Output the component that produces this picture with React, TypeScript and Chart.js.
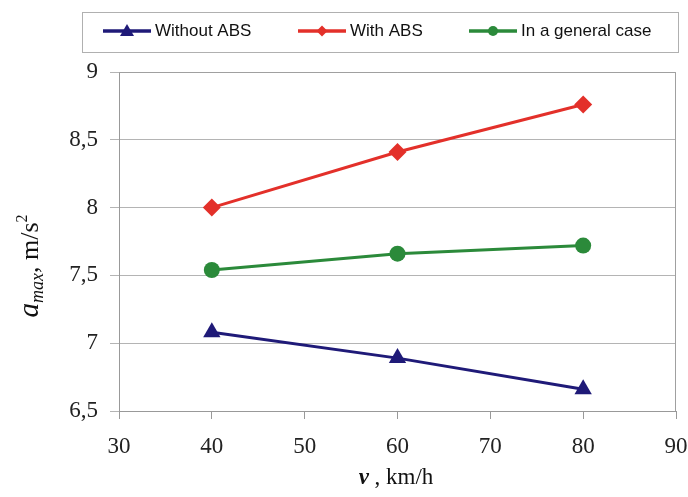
import React, { useEffect, useRef } from "react";
import { Chart, registerables } from "chart.js";

Chart.register(...registerables);

const speeds = [40, 60, 80];
const withoutABS = [7.08, 6.89, 6.66];
const withABS = [8.0, 8.41, 8.76];
const generalCase = [7.54, 7.66, 7.72];
const seriesLabels = ["Without ABS", "With ABS", "In a general case"];
const seriesColors = ["#1f1a78", "#e3302a", "#2b8a3a"];
const seriesMarkers = ["triangle", "rectRot", "circle"];
const markerRadius = [10, 9, 8];

const SERIF = "'Liberation Serif', 'Times New Roman', serif";
const SANS = "'Liberation Sans', Arial, sans-serif";

const decoPlugin = {
  id: "deco",
  afterDraw(chart: any) {
    const ctx = chart.ctx as CanvasRenderingContext2D;
    const a = chart.chartArea;
    ctx.save();
    // plot border (top & right)
    ctx.strokeStyle = "#a0a0a0";
    ctx.lineWidth = 1;
    ctx.beginPath();
    ctx.moveTo(a.left, a.top + 0.5);
    ctx.lineTo(a.right - 0.5, a.top + 0.5);
    ctx.lineTo(a.right - 0.5, a.bottom);
    ctx.stroke();

    // legend box
    const lx = 82, ly = 12, lw = 596, lh = 40;
    ctx.strokeStyle = "#b0b0b0";
    ctx.strokeRect(lx + 0.5, ly + 0.5, lw, lh);
    const itemX = [103, 298, 469];
    const cy = 31;
    chart.data.datasets.forEach((ds: any, i: number) => {
      const x0 = itemX[i];
      ctx.strokeStyle = ds.borderColor;
      ctx.lineWidth = 3.5;
      ctx.beginPath();
      ctx.moveTo(x0, cy);
      ctx.lineTo(x0 + 48, cy);
      ctx.stroke();
      ctx.fillStyle = ds.borderColor;
      const mx = x0 + 24;
      ctx.beginPath();
      if (ds.pointStyle === "triangle") {
        ctx.moveTo(mx, cy - 7);
        ctx.lineTo(mx + 7, cy + 5);
        ctx.lineTo(mx - 7, cy + 5);
      } else if (ds.pointStyle === "rectRot") {
        ctx.moveTo(mx, cy - 5.5);
        ctx.lineTo(mx + 5.5, cy);
        ctx.lineTo(mx, cy + 5.5);
        ctx.lineTo(mx - 5.5, cy);
      } else {
        ctx.arc(mx, cy, 5, 0, Math.PI * 2);
      }
      ctx.closePath();
      ctx.fill();
      ctx.fillStyle = "#111";
      ctx.font = `17px ${SANS}`;
      ctx.textBaseline = "middle";
      ctx.textAlign = "left";
      ctx.fillText(ds.label, x0 + 52, cy);
    });

    const drawParts = (parts: any[], cx: number, cyy: number) => {
      let total = 0;
      parts.forEach((p) => {
        ctx.font = p.font;
        p.w = ctx.measureText(p.t).width;
        total += p.w;
      });
      let x = cx - total / 2;
      ctx.textAlign = "left";
      ctx.textBaseline = "alphabetic";
      parts.forEach((p) => {
        ctx.font = p.font;
        ctx.fillText(p.t, x, cyy + (p.dy || 0));
        x += p.w;
      });
    };
    ctx.fillStyle = "#111";
    // x title
    drawParts(
      [
        { t: "v", font: `italic bold 23px ${SERIF}` },
        { t: " , km/h", font: `23px ${SERIF}` },
      ],
      396,
      484
    );

    // y title
    ctx.save();
    ctx.translate(38, 266);
    ctx.rotate(-Math.PI / 2);
    drawParts(
      [
        { t: "a", font: `italic 29px ${SERIF}` },
        { t: "max", font: `italic 18px ${SERIF}`, dy: 5 },
        { t: ", m/s", font: `26px ${SERIF}` },
        { t: "2", font: `16px ${SERIF}`, dy: -11 },
      ],
      0,
      0
    );
    ctx.restore();
    ctx.restore();
  },
};

export default function App() {
  const ref = useRef<HTMLCanvasElement>(null);
  useEffect(() => {
    const mk = (vals: number[]) => speeds.map((x, i) => ({ x, y: vals[i] }));
    const all = [withoutABS, withABS, generalCase];
    const chart = new Chart(ref.current!, {
      type: "line",
      data: {
        datasets: all.map((vals, i) => ({
          label: seriesLabels[i],
          data: mk(vals),
          borderColor: seriesColors[i],
          backgroundColor: seriesColors[i],
          borderWidth: 3,
          pointStyle: seriesMarkers[i] as any,
          pointRadius: markerRadius[i],
          pointBorderWidth: 0,
          tension: 0,
        })),
      },
      options: {
        animation: false,
        responsive: false,
        maintainAspectRatio: false,
        layout: { padding: { left: 0, top: 72, right: 12, bottom: 0 } },
        plugins: { legend: { display: false }, tooltip: { enabled: false } },
        scales: {
          x: {
            type: "linear",
            min: 30,
            max: 90,
            ticks: {
              stepSize: 10,
              color: "#222",
              font: { family: SERIF, size: 23 },
              padding: 14,
              maxRotation: 0,
            },
            grid: {
              drawOnChartArea: false,
              drawTicks: true,
              tickLength: 8,
              color: "#999",
            },
            border: { color: "#999" },
            afterFit(s: any) {
              s.height = 86;
              s.paddingLeft = 0;
              s.paddingRight = 0;
            },
          },
          y: {
            min: 6.5,
            max: 9,
            ticks: {
              stepSize: 0.5,
              color: "#222",
              font: { family: SERIF, size: 23 },
              padding: 12,
              callback: (v: any) => String(v).replace(".", ","),
            },
            grid: { color: "#b4b4b4", tickLength: 9, lineWidth: 1 },
            border: { color: "#999" },
            afterFit(s: any) {
              s.width = 119;
              s.paddingTop = 0;
              s.paddingBottom = 0;
            },
          },
        },
      },
      plugins: [decoPlugin],
    });
    return () => chart.destroy();
  }, []);
  return (
    <div style={{ position: "absolute", left: 0, top: 0, width: 688, height: 497, background: "#fff" }}>
      <canvas ref={ref} width={688} height={497} />
    </div>
  );
}
